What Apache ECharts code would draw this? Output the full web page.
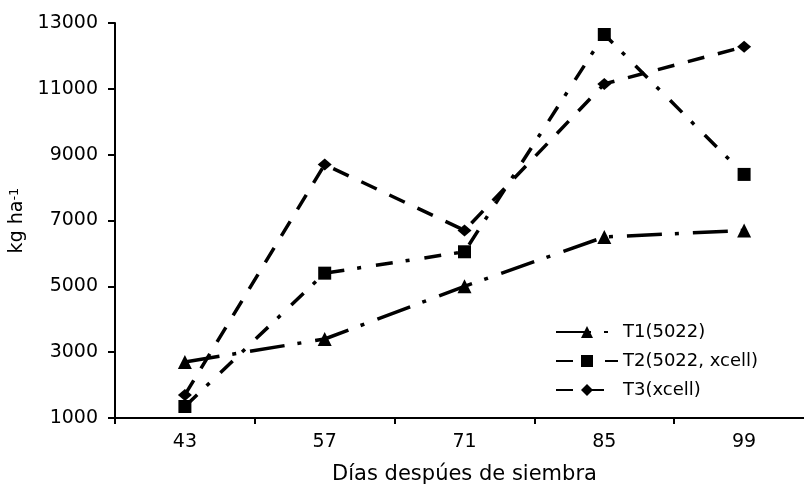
<!DOCTYPE html>
<html>
<head>
<meta charset="utf-8">
<script src="https://cdn.jsdelivr.net/npm/echarts@6/dist/echarts.min.js"></script>
<style>
html,body{margin:0;padding:0;background:#fff;}
#c{width:804px;height:487px;}
</style>
</head>
<body>
<div id="c"></div>
<script>
const categories = ['43', '57', '71', '85', '99'];
const seriesNames = ['T1(5022)', 'T2(5022, xcell)', 'T3(xcell)'];
const t1Values = [2700, 3400, 5000, 6500, 6700];
const t2Values = [1350, 5400, 6050, 12650, 8400];
const t3Values = [1700, 8700, 6700, 11150, 12280];
const yMin = 1000, yMax = 13000, yStep = 2000;
const xTitle = 'Días despúes de siembra';

const FONT = 'DejaVu Sans';
const chart = echarts.init(document.getElementById('c'), null, {renderer: 'canvas'});

function lineSeries(name, data, symbol, size, dash) {
  return {
    name: name,
    type: 'line',
    data: data,
    symbol: symbol,
    symbolSize: size,
    showSymbol: true,
    itemStyle: {color: '#000'},
    lineStyle: {color: '#000', width: 3.5, type: dash, cap: 'butt'},
    emphasis: {disabled: true}
  };
}

chart.setOption({
  animation: false,
  backgroundColor: '#fff',
  grid: {left: 115, right: -10, top: 23, bottom: 69, containLabel: false, outerBoundsMode: 'none'},
  legend: {
    orient: 'vertical',
    left: 550,
    top: 318,
    itemWidth: 62,
    itemHeight: 15,
    itemGap: 11,
    textStyle: {fontFamily: FONT, fontSize: 18, color: '#000'},
    data: seriesNames
  },
  xAxis: {
    type: 'category',
    data: categories,
    boundaryGap: true,
    name: xTitle,
    nameLocation: 'middle',
    nameGap: 46,
    nameTextStyle: {fontFamily: FONT, fontSize: 21, color: '#000'},
    axisLine: {lineStyle: {color: '#000', width: 2}},
    axisTick: {show: true, length: 6, inside: false, lineStyle: {color: '#000', width: 2}},
    axisLabel: {fontFamily: FONT, fontSize: 19, color: '#000', margin: 15},
    splitLine: {show: false}
  },
  yAxis: {
    type: 'value',
    min: yMin,
    max: yMax,
    interval: yStep,
    name: '{a|kg ha}{b|-1}',
    nameLocation: 'middle',
    nameRotate: 90,
    nameGap: 88,
    nameTextStyle: {
      rich: {
        a: {fontFamily: FONT, fontSize: 19, color: '#000'},
        b: {fontFamily: FONT, fontSize: 13, color: '#000', verticalAlign: 'top'}
      }
    },
    axisLine: {show: true, lineStyle: {color: '#000', width: 2}},
    axisTick: {show: true, length: 7, lineStyle: {color: '#000', width: 2}},
    axisLabel: {fontFamily: FONT, fontSize: 19, color: '#000', margin: 17,
      formatter: function (v) { return String(v); }},
    splitLine: {show: false}
  },
  series: [
    lineSeries(seriesNames[0], t1Values, 'triangle', 14, [35, 13, 4, 14]),
    lineSeries(seriesNames[1], t2Values, 'rect', 13, [17, 13, 4, 15]),
    lineSeries(seriesNames[2], t3Values, 'diamond', [14, 12], [17, 14])
  ]
});
</script>
</body>
</html>
